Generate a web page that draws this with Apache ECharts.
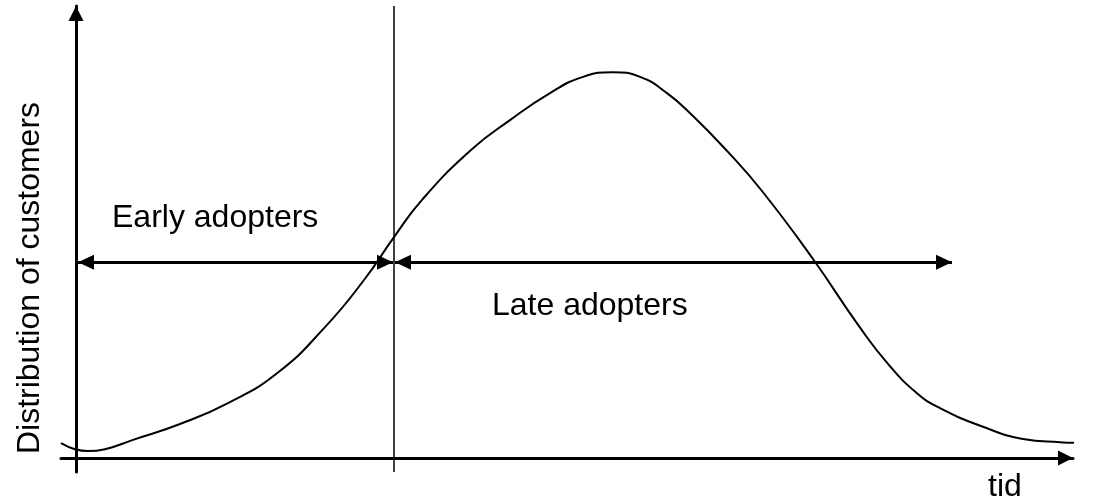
<!DOCTYPE html>
<html>
<head>
<meta charset="utf-8">
<script src="https://cdn.jsdelivr.net/npm/echarts@6/dist/echarts.min.js"></script>
<style>
  html, body { margin: 0; padding: 0; background: #fff; }
  #main { width: 1094px; height: 500px; }
</style>
</head>
<body>
<div id="main"></div>
<script>
// curve (time, share of customers)
var timeVals = [-1.5, -0.1, 1.2, 2.9, 5.7, 10.4, 15.2, 20.1, 24.9, 28.8, 31.8, 34.6, 39.5, 43.4, 47.4,
  50.7, 53.7, 56.4, 59.1, 61.7, 65.1, 68.6, 73.7, 78.3, 81.2, 84.1, 86.4, 90.7, 94.7, 98.4, 101.4];
var customerVals = [3.2, 1.9, 1.5, 1.9, 3.9, 7.3, 11.8, 18.2, 28.1, 38.2, 47.4, 55.4, 66.1, 72.5, 78.3,
  81.8, 82.8, 81.8, 78.3, 73.4, 65.9, 57.3, 42.7, 28.3, 20.2, 13.9, 10.7, 6.7, 4.1, 3.4, 3.2];

// split between the two groups, and the arrow spans
var splitTime = 31.8;
var arrowLevel = 42;
var earlySpan = [0.2, 31.7];
var lateSpan = [31.9, 87.6];

var groupLabels = ['Early adopters', 'Late adopters'];
var axisNames = ['tid', 'Distribution of customers'];

var chart = echarts.init(document.getElementById('main'));
var font = "'Liberation Sans', Arial, sans-serif";

var curve = [];
timeVals.forEach(function(t, i) {
  curve.push([t, customerVals[i]]);
});

function arrowEnd(x) {
  return {
    coord: [x, arrowLevel],
    symbol: 'triangle',
    symbolSize: [15, 16],
    symbolOffset: [0, 8]
  };
}

var axisBase = {
  type: 'value',
  axisTick: { show: false },
  axisLabel: { show: false },
  splitLine: { show: false },
  axisLine: {
    onZero: true,
    symbol: ['none', 'triangle'],
    symbolSize: [15, 15],
    symbolOffset: [0, -7.5],
    lineStyle: { color: '#000', width: 3 }
  }
};

chart.setOption({
  animation: false,
  grid: { left: 61, right: 21, top: 6, bottom: 28 },
  xAxis: Object.assign({}, axisBase, { min: -1.5, max: 99.7 }),
  yAxis: Object.assign({}, axisBase, { min: -3, max: 97 }),
  graphic: [
    {
      type: 'text', x: 112, y: 218,
      style: { text: groupLabels[0], font: '32px ' + font, fill: '#000', verticalAlign: 'middle' }
    },
    {
      type: 'text', x: 492, y: 306,
      style: { text: groupLabels[1], font: '32px ' + font, fill: '#000', verticalAlign: 'middle' }
    },
    {
      type: 'text', x: 988, y: 487,
      style: { text: axisNames[0], font: '32px ' + font, fill: '#000', verticalAlign: 'middle' }
    },
    {
      type: 'text', x: 30, y: 278, rotation: Math.PI / 2,
      style: { text: axisNames[1], font: '32px ' + font, fill: '#000', align: 'center', verticalAlign: 'middle' }
    }
  ],
  series: [{
    type: 'line',
    data: curve,
    smooth: 0.5,
    clip: false,
    symbol: 'none',
    color: '#000',
    lineStyle: { color: '#000', width: 2 },
    markLine: {
      silent: true,
      animation: false,
      symbol: ['none', 'none'],
      label: { show: false },
      lineStyle: { color: '#000', type: 'solid', width: 3 },
      data: [
        [
          { coord: [splitTime, -3], symbol: 'none', lineStyle: { width: 1.5 } },
          { coord: [splitTime, 97], symbol: 'none' }
        ],
        [arrowEnd(earlySpan[0]), arrowEnd(earlySpan[1])],
        [arrowEnd(lateSpan[0]), arrowEnd(lateSpan[1])]
      ]
    }
  }]
});
</script>
</body>
</html>
